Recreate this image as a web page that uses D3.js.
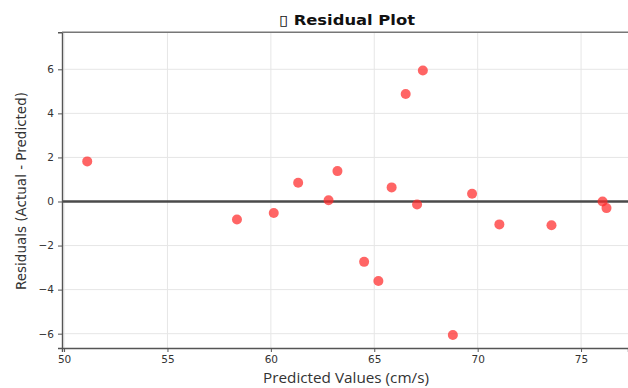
<!DOCTYPE html>
<html>
<head>
<meta charset="utf-8">
<script src="https://cdn.jsdelivr.net/npm/d3@7"></script>
<style>
html,body{margin:0;padding:0;background:#fff;}
svg{display:block;}
</style>
</head>
<body>
<svg id="chart" width="628" height="388"></svg>
<script>
const predicted = [51.12, 58.36, 60.14, 61.32, 62.79, 63.22, 64.51, 65.20, 65.84, 66.52, 67.07, 67.35, 68.80, 69.73, 71.05, 73.57, 76.04, 76.23];
const residuals = [1.82, -0.82, -0.52, 0.85, 0.06, 1.38, -2.74, -3.61, 0.64, 4.88, -0.14, 5.95, -6.06, 0.35, -1.04, -1.08, 0.0, -0.30];
const xTicks = [50, 55, 60, 65, 70, 75];
const yTicks = [-6, -4, -2, 0, 2, 4, 6];
const titleText = "\u25AF Residual Plot";
const xLabel = "Predicted Values (cm/s)";
const yLabel = "Residuals (Actual - Predicted)";

const svg = d3.select("#chart");
const pLeft = 62, pRight = 628, pTop = 32.3, pBottom = 348;
const x = d3.scaleLinear().domain([49.9, 77.27]).range([pLeft, pRight]);
const y = d3.scaleLinear().domain([-6.65, 7.68]).range([pBottom, pTop]);

// grid
svg.append("g").selectAll("line").data(xTicks).join("line")
  .attr("x1", d => x(d)).attr("x2", d => x(d))
  .attr("y1", pTop).attr("y2", pBottom)
  .attr("stroke", "#e6e6e6").attr("stroke-width", 1);
svg.append("g").selectAll("line").data(yTicks).join("line")
  .attr("x1", pLeft).attr("x2", pRight)
  .attr("y1", d => y(d)).attr("y2", d => y(d))
  .attr("stroke", "#e6e6e6").attr("stroke-width", 1);

// zero line
svg.append("line")
  .attr("x1", pLeft).attr("x2", pRight)
  .attr("y1", y(0)).attr("y2", y(0))
  .attr("stroke", "#4a4a4a").attr("stroke-width", 2.4);

// points
svg.append("g").selectAll("circle").data(predicted).join("circle")
  .attr("cx", d => x(d)).attr("cy", (d, i) => y(residuals[i]))
  .attr("r", 5)
  .attr("fill", "#ff2a2a").attr("fill-opacity", 0.72);

// axes
const xAxis = d3.axisBottom(x).tickValues(xTicks).tickSize(4).tickPadding(4).tickFormat(d3.format("d"));
const yAxis = d3.axisLeft(y).tickValues(yTicks).tickSize(4).tickPadding(4).tickFormat(d => d < 0 ? "\u2212" + Math.abs(d) : d);

const gx = svg.append("g").attr("transform", `translate(0,${pBottom})`).call(xAxis);
const gy = svg.append("g").attr("transform", `translate(${pLeft},0)`).call(yAxis);
[gx, gy].forEach(g => {
  g.select(".domain").attr("stroke", "#555").attr("stroke-width", 1.4);
  g.selectAll(".tick line").attr("stroke", "#555");
  g.selectAll(".tick text").attr("fill", "#333")
    .style("font-family", "'DejaVu Sans', sans-serif").style("font-size", "10.5px");
});

// top spine
svg.append("line").attr("x1", pLeft).attr("x2", pRight)
  .attr("y1", pTop).attr("y2", pTop)
  .attr("stroke", "#777").attr("stroke-width", 1.4);

// title
svg.append("text").attr("x", 347).attr("y", 25)
  .attr("text-anchor", "middle")
  .attr("textLength", 136).attr("lengthAdjust", "spacingAndGlyphs")
  .style("font-family", "'DejaVu Sans', sans-serif").style("font-weight", "bold").style("font-size", "14px")
  .attr("fill", "#111").text(titleText);

// axis labels
svg.append("text").attr("x", 346).attr("y", 383)
  .attr("text-anchor", "middle")
  .attr("textLength", 166).attr("lengthAdjust", "spacingAndGlyphs")
  .style("font-family", "'Open Sans', sans-serif").style("font-size", "14px")
  .attr("fill", "#333").text(xLabel);
svg.append("text")
  .attr("transform", `translate(26,191) rotate(-90)`)
  .attr("text-anchor", "middle")
  .style("font-family", "'DejaVu Sans', sans-serif").style("font-size", "13.5px")
  .attr("fill", "#333").text(yLabel);
</script>
</body>
</html>
